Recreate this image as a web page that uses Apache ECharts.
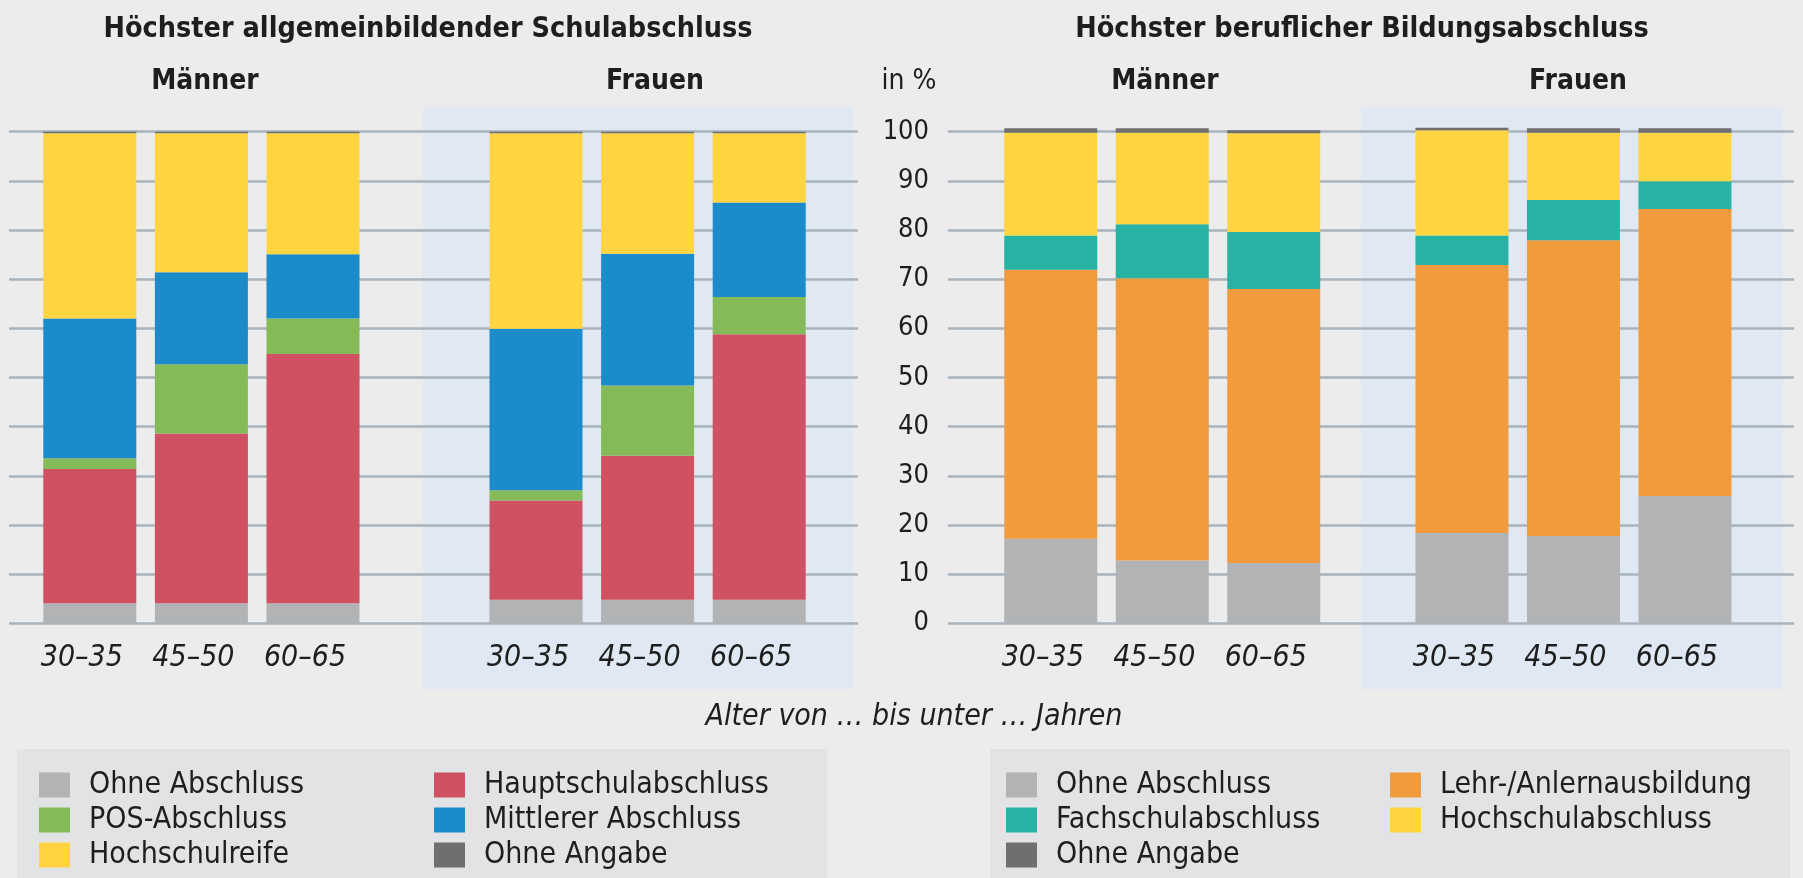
<!DOCTYPE html>
<html>
<head>
<meta charset="utf-8">
<script src="https://cdn.jsdelivr.net/npm/echarts@6/dist/echarts.min.js"></script>
<style>
html,body{margin:0;padding:0;background:#ececec;}
#c{width:1803px;height:878px;}
</style>
</head>
<body>
<div id="c"></div>
<script>
// ---- Data ----
const ages = ['30–35', '45–50', '60–65'];
const yTicks = [0, 10, 20, 30, 40, 50, 60, 70, 80, 90, 100];

// Höchster allgemeinbildender Schulabschluss – Männer
const schulM_ohne   = [4.1, 4.1, 4.1];
const schulM_haupt  = [27.3, 34.5, 50.7];
const schulM_pos    = [2.2, 14.1, 7.2];
const schulM_mittl  = [28.4, 18.7, 13.1];
const schulM_hsr    = [37.7, 28.3, 24.6];
const schulM_oa     = [0.3, 0.3, 0.3];
// Frauen
const schulF_ohne   = [4.8, 4.8, 4.8];
const schulF_haupt  = [20.2, 29.3, 54.0];
const schulF_pos    = [2.1, 14.3, 7.6];
const schulF_mittl  = [32.8, 26.8, 19.2];
const schulF_hsr    = [39.8, 24.5, 14.1];
const schulF_oa     = [0.3, 0.3, 0.3];

// Höchster beruflicher Bildungsabschluss – Männer
const berufM_ohne   = [17.2, 12.8, 12.3];
const berufM_lehr   = [54.7, 57.4, 55.7];
const berufM_fach   = [7.0, 11.0, 11.6];
const berufM_hs     = [20.9, 18.6, 20.1];
const berufM_oa     = [0.9, 0.9, 0.6];
// Frauen
const berufF_ohne   = [18.4, 17.8, 25.9];
const berufF_lehr   = [54.5, 60.1, 58.4];
const berufF_fach   = [6.0, 8.2, 5.6];
const berufF_hs     = [21.4, 13.7, 9.9];
const berufF_oa     = [0.5, 0.9, 0.9];

// ---- Styling ----
const FONT = "'Liberation Sans Narrow', 'DejaVu Sans Condensed', 'Liberation Sans', sans-serif";
const TXT = '#1e1e1e';
const C = {
  ohne: '#b2b3b5', haupt: '#cf5162', pos: '#84ba57', mittl: '#1b8cc9',
  hsr: '#fed541', oa: '#6f6f70', lehr: '#f19b3f', fach: '#27b3a4', hs: '#fed541'
};
const GRID_TOP = 131.7, GRID_BOTTOM = 878 - 623.4;
const BAR_W = 93;

const chart = echarts.init(document.getElementById('c'), null, {renderer: 'canvas'});

const grids = [
  {left: 9, width: 849, top: GRID_TOP, bottom: GRID_BOTTOM},          // bg left
  {left: 948, width: 846, top: GRID_TOP, bottom: GRID_BOTTOM},        // bg right
  {left: 34, width: 334.8, top: GRID_TOP, bottom: GRID_BOTTOM},       // schul M
  {left: 480.2, width: 334.8, top: GRID_TOP, bottom: GRID_BOTTOM},    // schul F
  {left: 995, width: 334.5, top: GRID_TOP, bottom: GRID_BOTTOM},      // beruf M
  {left: 1406.2, width: 334.5, top: GRID_TOP, bottom: GRID_BOTTOM}    // beruf F
];

const xAxes = [
  {gridIndex: 0, type: 'value', show: false},
  {gridIndex: 1, type: 'value', show: false}
];
for (let g = 2; g < 6; g++) {
  xAxes.push({
    gridIndex: g, type: 'category', data: ages,
    axisLine: {show: false}, axisTick: {show: false},
    axisLabel: {fontFamily: FONT, fontStyle: 'italic', fontSize: 30, color: TXT, margin: 20,
      padding: [0, 16, 0, 0]}
  });
}
const yAxes = [];
for (let g = 0; g < 6; g++) {
  const y = {
    gridIndex: g, type: 'value', min: yTicks[0], max: yTicks[yTicks.length - 1], interval: 10,
    axisLine: {show: false}, axisTick: {show: false}, axisLabel: {show: false},
    splitLine: {show: false}, z: 1
  };
  if (g < 2) {
    y.splitLine = {show: true, lineStyle: {color: '#a9b3bd', width: 2.5}};
  }
  if (g === 1) {
    y.axisLabel = {show: true, fontFamily: FONT, fontSize: 27, color: TXT, margin: 19};
  }
  yAxes.push(y);
}

function mk(name, data, color, idx, stack) {
  return {
    name: name, type: 'bar', stack: stack, data: data,
    xAxisIndex: idx, yAxisIndex: idx, barWidth: BAR_W, clip: false,
    itemStyle: {color: color}, z: 3, silent: true
  };
}

const series = [
  mk('Ohne Abschluss', schulM_ohne, C.ohne, 2, 'sm'),
  mk('Hauptschulabschluss', schulM_haupt, C.haupt, 2, 'sm'),
  mk('POS-Abschluss', schulM_pos, C.pos, 2, 'sm'),
  mk('Mittlerer Abschluss', schulM_mittl, C.mittl, 2, 'sm'),
  mk('Hochschulreife', schulM_hsr, C.hsr, 2, 'sm'),
  mk('Ohne Angabe', schulM_oa, C.oa, 2, 'sm'),

  mk('Ohne Abschluss', schulF_ohne, C.ohne, 3, 'sf'),
  mk('Hauptschulabschluss', schulF_haupt, C.haupt, 3, 'sf'),
  mk('POS-Abschluss', schulF_pos, C.pos, 3, 'sf'),
  mk('Mittlerer Abschluss', schulF_mittl, C.mittl, 3, 'sf'),
  mk('Hochschulreife', schulF_hsr, C.hsr, 3, 'sf'),
  mk('Ohne Angabe', schulF_oa, C.oa, 3, 'sf'),

  mk('Ohne Abschluss', berufM_ohne, C.ohne, 4, 'bm'),
  mk('Lehr-/Anlernausbildung', berufM_lehr, C.lehr, 4, 'bm'),
  mk('Fachschulabschluss', berufM_fach, C.fach, 4, 'bm'),
  mk('Hochschulabschluss', berufM_hs, C.hs, 4, 'bm'),
  mk('Ohne Angabe', berufM_oa, C.oa, 4, 'bm'),

  mk('Ohne Abschluss', berufF_ohne, C.ohne, 5, 'bf'),
  mk('Lehr-/Anlernausbildung', berufF_lehr, C.lehr, 5, 'bf'),
  mk('Fachschulabschluss', berufF_fach, C.fach, 5, 'bf'),
  mk('Hochschulabschluss', berufF_hs, C.hs, 5, 'bf'),
  mk('Ohne Angabe', berufF_oa, C.oa, 5, 'bf')
];

function leg(left, data) {
  return {
    orient: 'vertical', left: left, top: 770, height: 108, padding: 0,
    itemWidth: 31, itemHeight: 25, itemGap: 5,
    icon: 'rect', selectedMode: false, data: data,
    textStyle: {fontFamily: FONT, fontSize: 30, lineHeight: 25, color: TXT, padding: [0, 0, 0, 14]}
  };
}

function ttl(text, x, y, bold, size, italic) {
  return {
    text: text, left: x, top: y, textAlign: 'center',
    textStyle: {fontFamily: FONT, fontWeight: bold ? 'bold' : 'normal', fontStyle: italic ? 'italic' : 'normal',
      fontSize: size, color: TXT}
  };
}

const option = {
  backgroundColor: '#ececec',
  animation: false,
  title: [
    ttl('Höchster allgemeinbildender Schulabschluss', 423, 10, true, 28.5),
    ttl('Höchster beruflicher Bildungsabschluss', 1357, 10, true, 28.5),
    ttl('Männer', 200, 63, true, 28),
    ttl('Frauen', 650, 63, true, 28),
    ttl('in %', 904, 63, false, 28),
    ttl('Männer', 1160, 63, true, 28),
    ttl('Frauen', 1573, 63, true, 28),
    ttl('Alter von … bis unter … Jahren', 909, 697, false, 30, true)
  ],
  graphic: [
    {type: 'rect', z: -1, shape: {x: 423, y: 107, width: 430, height: 582}, style: {fill: '#dfe8f3'}},
    {type: 'rect', z: -1, shape: {x: 1361, y: 107, width: 422, height: 582}, style: {fill: '#dfe8f3'}},
    {type: 'rect', z: -1, shape: {x: 17, y: 749, width: 810, height: 129}, style: {fill: '#e2e3e5'}},
    {type: 'rect', z: -1, shape: {x: 990, y: 749, width: 800, height: 129}, style: {fill: '#e2e3e5'}}
  ],
  legend: [
    leg(39, ['Ohne Abschluss', 'POS-Abschluss', 'Hochschulreife']),
    leg(434, ['Hauptschulabschluss', 'Mittlerer Abschluss', 'Ohne Angabe']),
    leg(1006, ['Ohne Abschluss', 'Fachschulabschluss', 'Ohne Angabe']),
    leg(1390, ['Lehr-/Anlernausbildung', 'Hochschulabschluss'])
  ],
  grid: grids,
  xAxis: xAxes,
  yAxis: yAxes,
  series: series
};
chart.setOption(option);
</script>
</body>
</html>
